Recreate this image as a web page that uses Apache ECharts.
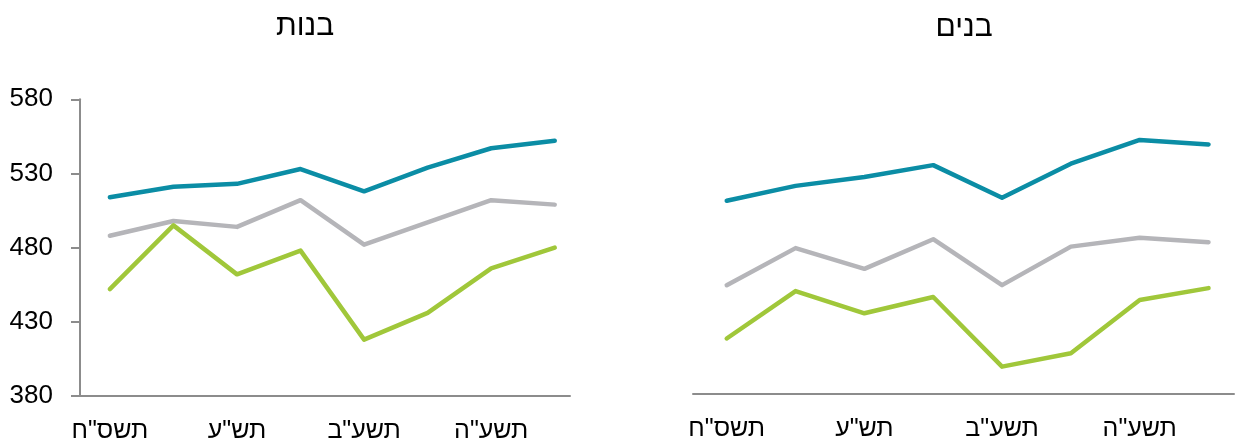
<!DOCTYPE html>
<html>
<head>
<meta charset="utf-8">
<script src="https://cdn.jsdelivr.net/npm/echarts@6/dist/echarts.min.js"></script>
<style>
  html, body { margin: 0; padding: 0; background: #fff; }
  #chart { width: 1243px; height: 448px; }
</style>
</head>
<body>
<div id="chart"></div>
<script>
// Categories (school years)
const categories = ['תשס"ח', 'תשס"ט', 'תש"ע', 'תשע"א', 'תשע"ב', 'תשע"ג', 'תשע"ה', 'תשע"ו'];
const labeledIndexes = [0, 2, 4, 6];
const yTicks = [380, 430, 480, 530, 580];

// Girls (left panel)
const girlsHigh = [514, 521, 523, 533, 518, 534, 547, 552];
const girlsAll  = [488, 498, 494, 512, 482, 497, 512, 509];
const girlsLow  = [452, 495, 462, 478, 418, 436, 466, 480];

// Boys (right panel)
const boysHigh = [510, 520, 526, 534, 512, 535, 551, 548];
const boysAll  = [453, 478, 464, 484, 453, 479, 485, 482];
const boysLow  = [417, 449, 434, 445, 398, 407, 443, 451];

const titles = ['בנות', 'בנים'];
const seriesNames = ['גבוה', 'כלל', 'נמוך'];
const colors = ['#0B8DA5', '#B5B5B9', '#A0C73A'];

const FONT = '"Liberation Sans", Arial, sans-serif';

function pairs(arr) { return arr.map((v, i) => [i, v]); }

function xAxisFor(gridIndex, min, max) {
  return {
    type: 'value', gridIndex, min, max,
    axisLine: { show: true, onZero: false, lineStyle: { color: '#8C8C8C', width: 2 } },
    axisTick: { show: false },
    splitLine: { show: false },
    axisLabel: {
      customValues: labeledIndexes,
      formatter: v => categories[Math.round(v)] || '',
      color: '#000', fontSize: 25, fontFamily: FONT, margin: 23
    }
  };
}

function line(name, data, color, xi) {
  return {
    name, type: 'line', xAxisIndex: xi, yAxisIndex: xi,
    data: pairs(data), showSymbol: false, symbol: 'none',
    lineStyle: { color, width: 4.5, cap: 'round', join: 'round' },
    itemStyle: { color }, silent: true, animation: false
  };
}

const chart = echarts.init(document.getElementById('chart'), null, { renderer: 'canvas' });
chart.setOption({
  backgroundColor: '#fff',
  animation: false,
  title: [
    { text: titles[0], left: 300, top: 7, textAlign: 'center',
      textStyle: { fontSize: 30, fontWeight: 'normal', color: '#000', fontFamily: FONT } },
    { text: titles[1], left: 959, top: 8, textAlign: 'center',
      textStyle: { fontSize: 30, fontWeight: 'normal', color: '#000', fontFamily: FONT } }
  ],
  grid: [
    { left: 80, top: 99.3, width: 490, height: 296.7 },
    { left: 693, top: 97, width: 541, height: 296.3 }
  ],
  xAxis: [ xAxisFor(0, -0.47, 7.24), xAxisFor(1, -0.49, 7.37) ],
  yAxis: [
    {
      type: 'value', gridIndex: 0, min: yTicks[0], max: yTicks[yTicks.length - 1], interval: 50,
      axisLine: { show: true, onZero: false, lineStyle: { color: '#8C8C8C', width: 2 } },
      axisTick: { show: true, length: 9, lineStyle: { color: '#8C8C8C', width: 2 } },
      splitLine: { show: false },
      axisLabel: { color: '#000', fontSize: 26, fontFamily: FONT, margin: 27 }
    },
    {
      type: 'value', gridIndex: 1, min: yTicks[0], max: yTicks[yTicks.length - 1], interval: 50,
      show: false, splitLine: { show: false }
    }
  ],
  series: [
    line(seriesNames[0], girlsHigh, colors[0], 0),
    line(seriesNames[1], girlsAll, colors[1], 0),
    line(seriesNames[2], girlsLow, colors[2], 0),
    line(seriesNames[0], boysHigh, colors[0], 1),
    line(seriesNames[1], boysAll, colors[1], 1),
    line(seriesNames[2], boysLow, colors[2], 1)
  ]
});
</script>
</body>
</html>
